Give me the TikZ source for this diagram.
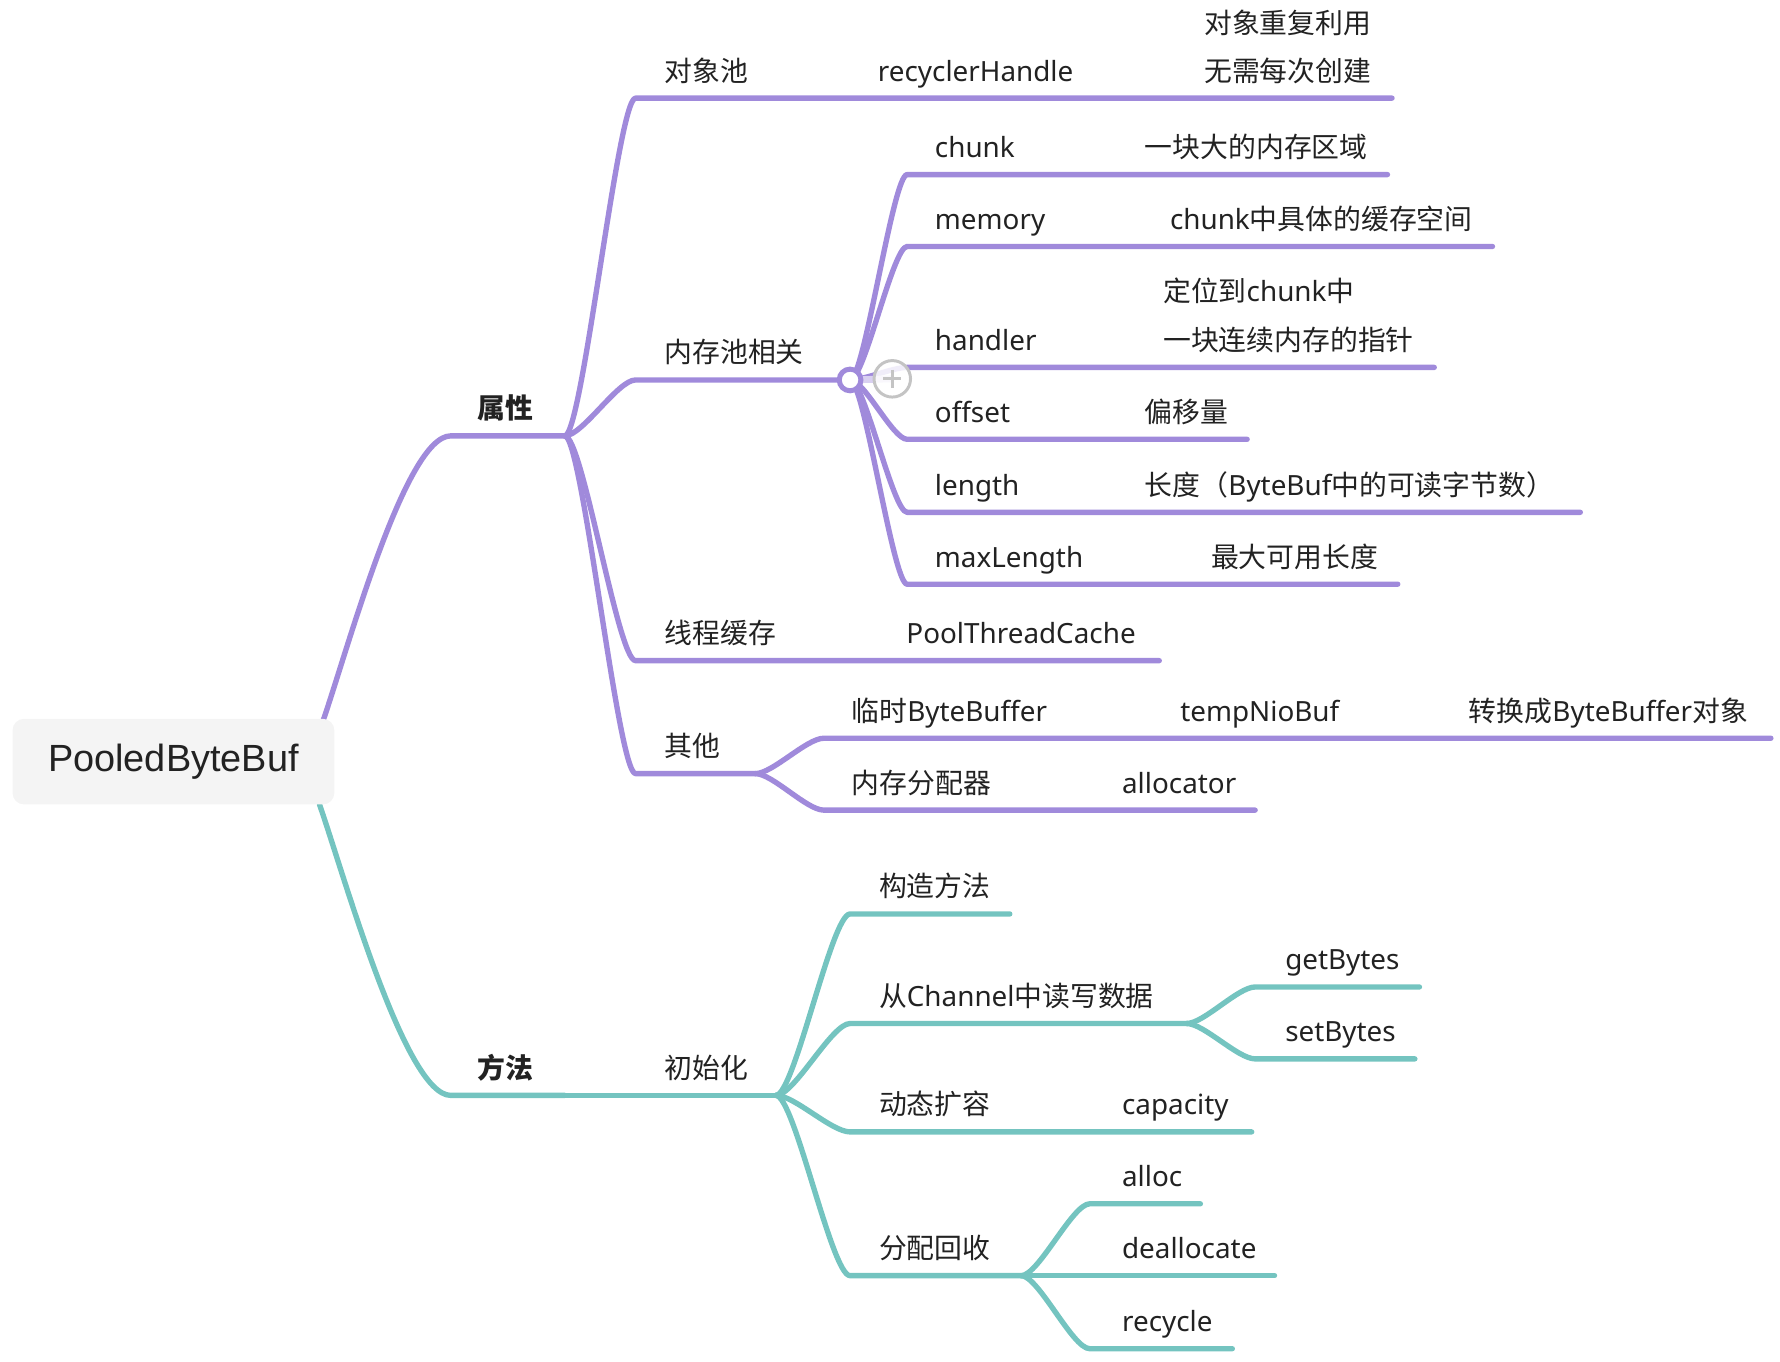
\documentclass[tikz,border=0pt]{standalone}
\usepackage{fontspec}
\setmainfont{Noto Sans CJK SC}
\newfontfamily\lat{Noto Sans}
\newfontfamily\rootfont{Liberation Sans}
\usetikzlibrary{calc}
\definecolor{pcol}{HTML}{A08ADB}
\definecolor{tcol}{HTML}{74C4C0}
\definecolor{txt}{HTML}{222222}
\definecolor{rootbg}{HTML}{F4F4F4}
\definecolor{btngray}{HTML}{C4C4C4}
\tikzset{
  lbl/.style={anchor=base west, inner sep=0pt, text=txt, font=\fontsize{12.2}{14}\selectfont},
  lt/.style={anchor=base west, inner sep=0pt, text=txt, font=\lat\fontsize{12.2}{14}\selectfont},
  bold/.style={anchor=base west, inner sep=0pt, text=txt, font=\bfseries\fontsize{12.2}{14}\selectfont},
  branch/.style={line width=2.35pt, line cap=round, line join=round,
    to path={.. controls ($(\tikztostart)!0.25!(\tikztostart -| \tikztotarget)$) and ($(\tikztotarget)!0.25!(\tikztotarget -| \tikztostart)$) .. (\tikztotarget)}},
  pb/.style={branch, draw=pcol},
  tb/.style={branch, draw=tcol},
}
\begin{document}
\begin{tikzpicture}[x=0.5pt, y=-0.5pt]
\useasboundingbox (0,0) rectangle (1560,1193.6);

% ---------- coordinates ----------
\coordinate (r1) at (283,632);
\coordinate (r2) at (280,705);
\coordinate (sx) at (395,382);
\coordinate (sxe) at (495,382);
\coordinate (ff) at (395,960);
\coordinate (ffe) at (495,960);

% ---------- 属性 branch (purple) ----------
\draw[pcol, line width=2.35pt, line cap=round] (r1) .. controls (304,572) and (355,382) .. (sx) -- (sxe);

% 对象池
\coordinate (dx0) at (557,86); \coordinate (dx1) at (1220,86);
\draw[pb] (sxe) to (dx0) -- (dx1);
% 内存池相关
\coordinate (nc0) at (557,333); \coordinate (hub) at (745,333);
\draw[pb] (sxe) to (nc0) -- (hub);
% 线程缓存
\coordinate (xc0) at (557,579); \coordinate (xc1) at (1016,579);
\draw[pb] (sxe) to (xc0) -- (xc1);
% 其他
\coordinate (qt0) at (557,678); \coordinate (qt1) at (662,678);
\draw[pb] (sxe) to (qt0) -- (qt1);
% 其他 children
\coordinate (ls0) at (722,647); \coordinate (ls1) at (1552,647);
\draw[pb] (qt1) to (ls0) -- (ls1);
\coordinate (fp0) at (722,710); \coordinate (fp1) at (1100,710);
\draw[pb] (qt1) to (fp0) -- (fp1);

% 内存池相关 children
\coordinate (ck0) at (795,153); \coordinate (ck1) at (1216,153);
\coordinate (me0) at (795,216); \coordinate (me1) at (1308,216);
\coordinate (ha0) at (795,322); \coordinate (ha1) at (1257,322);
\coordinate (of0) at (795,385); \coordinate (of1) at (1093,385);
\coordinate (le0) at (795,449); \coordinate (le1) at (1385,449);
\coordinate (ml0) at (795,512); \coordinate (ml1) at (1225,512);
\foreach \a/\b in {ck0/ck1, me0/me1, ha0/ha1, of0/of1, le0/le1, ml0/ml1}
  \draw[pb] (hub) to (\a) -- (\b);

% hub + collapse button
\coordinate (btn) at (782,332);
\draw[pcol!40, line width=3pt] (hub) -- (btn);
\draw[pcol, line width=2.2pt, fill=white] (hub) circle (9.5);
\draw[btngray, line width=1.3pt, fill=white, fill opacity=0.85] (btn) circle (16);
\draw[btngray, line width=1.4pt] ($(btn)+(-8,0)$) -- ($(btn)+(8,0)$) ($(btn)+(0,-8)$) -- ($(btn)+(0,8)$);

% ---------- 方法 branch (teal) ----------
\draw[tcol, line width=2.35pt, line cap=round] (r2) .. controls (301,765) and (355,960) .. (ff) -- (ffe);
\coordinate (cs1) at (680,960);
\draw[tb] (ffe) -- (cs1);

\coordinate (gz0) at (745,801); \coordinate (gz1) at (885,801);
\draw[tb] (cs1) to (gz0) -- (gz1);
\coordinate (ch0) at (745,897); \coordinate (ch1) at (1040,897);
\draw[tb] (cs1) to (ch0) -- (ch1);
\coordinate (kr0) at (745,992); \coordinate (kr1) at (1097,992);
\draw[tb] (cs1) to (kr0) -- (kr1);
\coordinate (hs0) at (745,1118); \coordinate (hs1) at (895,1118);
\draw[tb] (cs1) to (hs0) -- (hs1);

\coordinate (gb0) at (1100,865); \coordinate (gb1) at (1244,865);
\draw[tb] (ch1) to (gb0) -- (gb1);
\coordinate (sb0) at (1100,928); \coordinate (sb1) at (1240,928);
\draw[tb] (ch1) to (sb0) -- (sb1);

\coordinate (al0) at (955,1055); \coordinate (al1) at (1052,1055);
\draw[tb] (hs1) to (al0) -- (al1);
\coordinate (de1) at (1117,1118);
\draw[tb] (hs1) -- (de1);
\coordinate (rc0) at (955,1182); \coordinate (rc1) at (1080,1182);
\draw[tb] (hs1) to (rc0) -- (rc1);

% ---------- root ----------
\node[fill=rootbg, rounded corners=5pt, minimum width=141pt, minimum height=37.5pt, inner sep=0pt,
      text=txt, font=\rootfont\fontsize{16.6}{18}\selectfont] (root) at (152,667.5) {PooledByteBuf};

% ---------- labels ----------
\node[bold] (t-sx) at (418,367) {属性};
\node[bold] (t-ff) at (418,945) {方法};

\node[lbl] (t-dx) at (582,71) {对象池};
\node[lt]  (t-rh) at (769,71) {recyclerHandle};
\node[lbl] (t-dx2) at (1055,29) {对象重复利用};
\node[lbl] (t-dx3) at (1055,71) {无需每次创建};

\node[lbl] (t-nc) at (582,318) {内存池相关};
\node[lt]  (t-ck) at (819,138) {chunk};
\node[lbl] (t-ck2) at (1003,138) {一块大的内存区域};
\node[lt]  (t-me) at (819,201) {memory};
\node[lbl] (t-me2) at (1025,201) {{\lat chunk}中具体的缓存空间};
\node[lt]  (t-ha) at (819,307) {handler};
\node[lbl] (t-ha2) at (1019,264) {定位到{\lat chunk}中};
\node[lbl] (t-ha3) at (1019,307) {一块连续内存的指针};
\node[lt]  (t-of) at (819,370) {offset};
\node[lbl] (t-of2) at (1003,370) {偏移量};
\node[lt]  (t-le) at (819,434) {length};
\node[lbl] (t-le2) at (1003,434) {长度（{\lat ByteBuf}中的可读字节数）};
\node[lt]  (t-ml) at (819,497) {maxLength};
\node[lbl] (t-ml2) at (1061,497) {最大可用长度};

\node[lbl] (t-xc) at (582,564) {线程缓存};
\node[lt]  (t-xc2) at (794,564) {PoolThreadCache};

\node[lbl] (t-qt) at (582,663) {其他};
\node[lbl] (t-ls) at (746,632) {临时{\lat ByteBuffer}};
\node[lt]  (t-ls2) at (1034,632) {tempNioBuf};
\node[lbl] (t-ls3) at (1287,632) {转换成{\lat ByteBuffer}对象};
\node[lbl] (t-fp) at (746,695) {内存分配器};
\node[lt]  (t-fp2) at (983,695) {allocator};

\node[lbl] (t-cs) at (582,945) {初始化};
\node[lbl] (t-gz) at (770,786) {构造方法};
\node[lbl] (t-ch) at (770,882) {从{\lat Channel}中读写数据};
\node[lt]  (t-gb) at (1126,850) {getBytes};
\node[lt]  (t-sb) at (1126,913) {setBytes};
\node[lbl] (t-kr) at (770,977) {动态扩容};
\node[lt]  (t-kr2) at (983,977) {capacity};
\node[lbl] (t-hs) at (770,1103) {分配回收};
\node[lt]  (t-al) at (983,1040) {alloc};
\node[lt]  (t-de) at (983,1103) {deallocate};
\node[lt]  (t-rc) at (983,1167) {recycle};
\end{tikzpicture}
\end{document}
